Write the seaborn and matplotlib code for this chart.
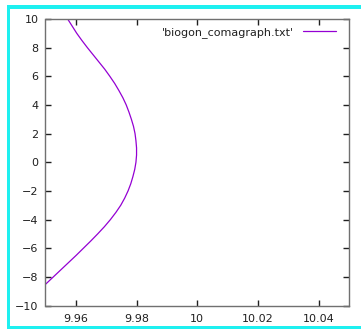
import matplotlib
matplotlib.use("Agg")
import matplotlib.pyplot as plt
import seaborn as sns
import pandas as pd
from matplotlib.patches import Rectangle

# Data
y_vals = [10, 9.5, 9, 8.5, 8, 7.5, 7, 6.5, 6, 5.5, 5, 4.5, 4, 3.5, 3, 2.5, 2, 1.5, 1, 0.5,
          0, -0.5, -1, -1.5, -2, -2.5, -3, -3.5, -4, -4.5, -5, -5.5, -6, -6.5, -7, -7.5,
          -8, -8.5, -9, -9.5, -10]
x_vals = [9.9573, 9.9588, 9.9603, 9.9620, 9.9638, 9.9657, 9.9676, 9.9695, 9.9712, 9.9728,
          9.9742, 9.9755, 9.9766, 9.9775, 9.9783, 9.9790, 9.9795, 9.9798, 9.9800, 9.9800,
          9.9798, 9.9794, 9.9788, 9.9781, 9.9772, 9.9761, 9.9748, 9.9732, 9.9714, 9.9694,
          9.9672, 9.9649, 9.9625, 9.9601, 9.9576, 9.9551, 9.9526, 9.9501, 9.9476, 9.9451,
          9.9426]
series_label = "'biogon_comagraph.txt'"
x_ticks = [9.96, 9.98, 10.0, 10.02, 10.04]
x_tick_labels = ["9.96", "9.98", "10", "10.02", "10.04"]
y_ticks = [-10, -8, -6, -4, -2, 0, 2, 4, 6, 8, 10]

df = pd.DataFrame({"x": x_vals, "y": y_vals})

sns.set_theme(style="white")
plt.rcParams['font.family'] = ['DejaVu Sans']

fig = plt.figure(figsize=(3.61, 3.29), dpi=100)
ax = fig.add_axes([45.5 / 361, 1 - 305.5 / 329, (349 - 45.5) / 361, (305.5 - 19) / 329])

sns.lineplot(data=df, x="x", y="y", sort=False, estimator=None, ax=ax,
             color="#9400d3", linewidth=0.9, label=series_label)

ax.set_xlim(9.95, 10.05)
ax.set_ylim(-10, 10)
ax.set_xticks(x_ticks)
ax.set_xticklabels(x_tick_labels)
ax.set_yticks(y_ticks)
ax.set_xlabel("")
ax.set_ylabel("")

ax.tick_params(axis="both", direction="in", length=4, width=1, color="#202020",
               labelsize=8, labelcolor="#202020", top=True, right=True,
               bottom=True, left=True)
ax.tick_params(axis="x", pad=6)
ax.tick_params(axis="y", pad=5)
for s in ax.spines.values():
    s.set_color("#707070")
    s.set_linewidth(1.0)

leg = ax.legend(loc="upper right", bbox_to_anchor=(1 - 5 / 303.5, 1), frameon=False,
                markerfirst=False, handlelength=3.0, fontsize=8, borderaxespad=0.3,
                handletextpad=0.8)
for t in leg.get_texts():
    t.set_color("#202020")

cyan = "#1ef0f0"
fig.patches.append(Rectangle((7 / 361, 0), 3 / 361, 1 - 5 / 329, transform=fig.transFigure,
                             facecolor=cyan, edgecolor="none"))
fig.patches.append(Rectangle((7 / 361, 1 - 9 / 329), 1, 4 / 329, transform=fig.transFigure,
                             facecolor=cyan, edgecolor="none"))
fig.patches.append(Rectangle((7 / 361, 0), 1, 3 / 329, transform=fig.transFigure,
                             facecolor=cyan, edgecolor="none"))

fig.savefig("out.png", dpi=100)
